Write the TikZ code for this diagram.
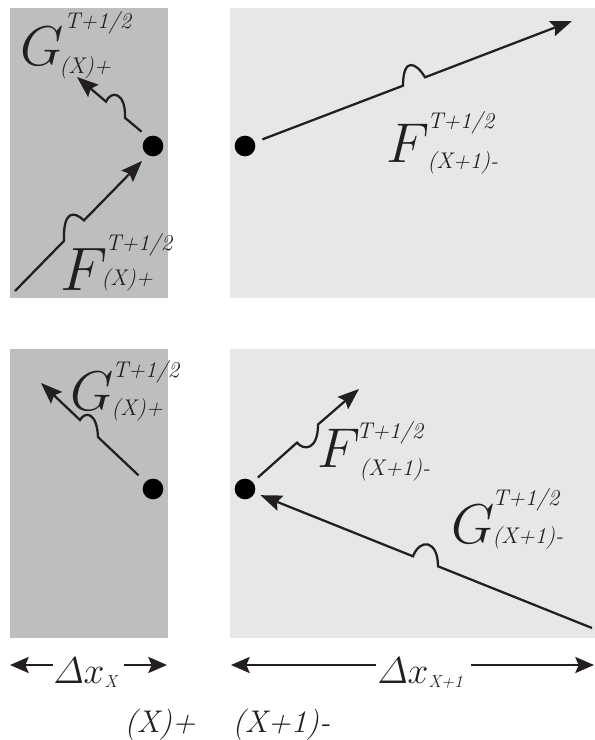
\RequirePackage{fix-cm}
\documentclass[tikz,border=0pt]{standalone}
\usepackage{amsmath}
\usetikzlibrary{arrows.meta,calc}

\definecolor{cellL}{RGB}{189,190,192}
\definecolor{cellR}{RGB}{230,231,232}
\definecolor{ink}{RGB}{35,31,32}

\tikzset{
  flux/.style={draw=ink, line width=1.7pt, -{Stealth[length=16pt,width=12pt,inset=2.5pt]}},
  spanarrow/.style={draw=ink, line width=1.9pt, -{Stealth[length=14pt,width=12pt,inset=2.5pt]}},
  face/.style={circle, fill=black, inner sep=0pt, minimum size=15.5pt},
  letter/.style={anchor=base west, inner sep=0pt, text=ink, font=\fontsize{42}{42}\selectfont},
  suptext/.style={anchor=base west, inner sep=0pt, text=ink, font=\fontsize{17}{17}\selectfont\itshape},
  spanlabel/.style={anchor=base west, inner sep=0pt, text=ink, font=\fontsize{28}{28}\selectfont},
  celllabel/.style={anchor=base west, inner sep=0pt, text=ink, font=\fontsize{23.5}{24}\selectfont\itshape}
}

\newcommand{\fluxlabel}[7][]{
    % letter, then T+1/2 above and the cell side below
    \node[letter,#1] (#2) at (#4) {$#3$};
    \node[suptext] (#2-up) at (#5) {T+1/2};
    \node[suptext] (#2-dn) at (#7) {#6};
}

\newcommand{\fluxarrow}[7][]{
    % straight run, one small hop, straight run
    \draw[flux,#1] (#2) -- (#4) .. controls (#5) and (#6) .. (#7) -- (#3);
}

\newcommand{\spansub}[1]{\raisebox{-3pt}{\fontsize{13}{13}\selectfont\itshape #1}}

\begin{document}
\begin{tikzpicture}[x=0.75pt,y=-0.75pt]
    \useasboundingbox (0,0) rectangle (595,740);

    % cells
    \fill[cellL] (10,8) rectangle (168,298);
    \fill[cellR] (230,8) rectangle (595,298);
    \fill[cellL] (10,349) rectangle (168,638);
    \fill[cellR] (230,349) rectangle (595,638);

    % cell faces
    \node[face] (dTL) at (153,146) {};
    \node[face] (dTR) at (245,146) {};
    \node[face] (dBL) at (153,489) {};
    \node[face] (dBR) at (245,489) {};

    % free ends of the fluxes
    \coordinate (fTLs) at (15,291);
    \coordinate (gTLe) at (77,77);
    \coordinate (fTRe) at (572,21);
    \coordinate (gBLe) at (41,383);
    \coordinate (fBRe) at (359,389);
    \coordinate (gBRs) at (592,628);

    % top row
    \fluxarrow[shorten >=6pt]{fTLs}{dTL.240}{64,240.9}{63,210}{74,211}{84,220.4}
    \fluxarrow[shorten <=6pt]{dTL.120}{gTLe}{125,117.8}{126,92}{111,90}{106,101.6}
    \fluxarrow[shorten <=6pt]{dTR}{fTRe}{403,85.7}{403,57}{416,62}{425,77.3}

    % bottom row
    \fluxarrow[shorten <=7pt]{dBL}{gBLe}{98,437.1}{97,412}{85,411}{80,420}
    \fluxarrow[shorten <=5pt]{dBR}{fBRe}{297,442.6}{304,451}{318,450}{318,424.5}
    \fluxarrow[shorten >=4.5pt]{gBRs}{dBR}{438,566.3}{438,540}{420,538}{413,556.3}

    % labels
    \fluxlabel{gTL}{G}{20,65}{64,28}{(X)+}{59,73}
    \fluxlabel[font=\fontsize{46}{46}\selectfont]{fTL}{F}{60,290}{105,250}{(X)+}{101,285}
    \fluxlabel{fTR}{F}{386,162}{427,128}{(X+1)-}{427,168}
    \fluxlabel{gBL}{G}{70,410}{112,377}{(X)+}{111,415}
    \fluxlabel{fBR}{F}{317,467}{356,438}{(X+1)-}{359,475}
    \fluxlabel{gBR}{G}{451,543}{492,505}{(X+1)-}{492,543}

    % cell widths
    \coordinate (wXl) at (10,665);
    \coordinate (wXr) at (167,665);
    \coordinate (wYl) at (231,665);
    \coordinate (wYr) at (594,665);
    \node[spanlabel] (wX) at (53,683) {$\varDelta x$\spansub{X}};
    \node[spanlabel] (wY) at (377,683) {$\varDelta x$\spansub{X+1}};
    \draw[spanarrow] (wX.west |- wXl) -- (wXl);
    \draw[spanarrow,shorten <=5pt] (wX.east |- wXr) -- (wXr);
    \draw[spanarrow,shorten <=1pt] (wY.west |- wYl) -- (wYl);
    \draw[spanarrow,shorten <=6pt] (wY.east |- wYr) -- (wYr);

    \node[celllabel] (sX) at (124,732) {(X)+};
    \node[celllabel] (sY) at (232,732) {(X+1)-};
\end{tikzpicture}
\end{document}
